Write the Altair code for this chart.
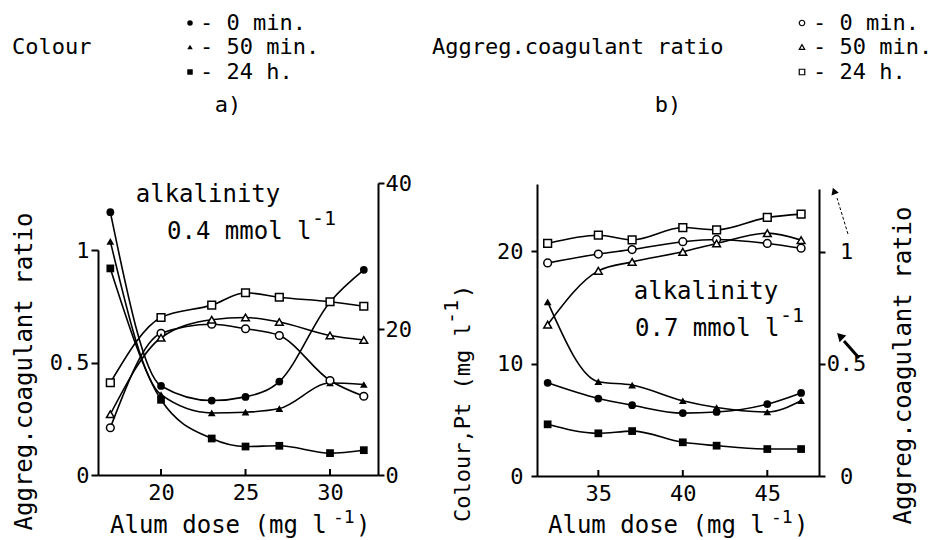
import altair as alt
import pandas as pd

FONT = "DejaVu Sans Mono"
SERIES = ["0 min.", "50 min.", "24 h."]
SHAPES = ["circle", "triangle-up", "square"]

# ---- panel a) alkalinity 0.4 mmol/l ----
DOSE_A = [17, 20, 23, 25, 27, 30, 32]
COLOUR_A_0 = [36.0, 12.2, 10.2, 10.7, 12.8, 23.7, 28.1]
COLOUR_A_50 = [32.0, 11.0, 8.5, 8.6, 9.1, 12.6, 12.4]
COLOUR_A_24 = [28.3, 10.3, 5.0, 3.9, 4.0, 3.0, 3.4]
RATIO_A_0 = [0.21, 0.63, 0.67, 0.65, 0.62, 0.42, 0.35]
RATIO_A_50 = [0.27, 0.61, 0.69, 0.70, 0.68, 0.62, 0.60]
RATIO_A_24 = [0.41, 0.70, 0.755, 0.81, 0.79, 0.77, 0.75]
XTICKS_A = [20, 25, 30]

# ---- panel b) alkalinity 0.7 mmol/l ----
DOSE_B = [32, 35, 37, 40, 42, 45, 47]
COLOUR_B_0 = [8.3, 6.9, 6.3, 5.6, 5.7, 6.4, 7.4]
COLOUR_B_50 = [15.5, 8.4, 8.1, 6.7, 6.1, 5.7, 6.7]
COLOUR_B_24 = [4.6, 3.8, 4.0, 3.0, 2.7, 2.4, 2.4]
RATIO_B_0 = [0.95, 0.99, 1.01, 1.045, 1.055, 1.037, 1.016]
RATIO_B_50 = [0.675, 0.915, 0.955, 1.0, 1.037, 1.083, 1.052]
RATIO_B_24 = [1.037, 1.074, 1.053, 1.108, 1.098, 1.153, 1.168]
XTICKS_B = [35, 40, 45]


def long(dose, a, b, c):
    rows = []
    for s, vals in zip(SERIES, [a, b, c]):
        for d, v in zip(dose, vals):
            rows.append({"dose": d, "value": v, "series": s})
    return pd.DataFrame(rows)


colA = long(DOSE_A, COLOUR_A_0, COLOUR_A_50, COLOUR_A_24)
ratA = long(DOSE_A, RATIO_A_0, RATIO_A_50, RATIO_A_24)
colB = long(DOSE_B, COLOUR_B_0, COLOUR_B_50, COLOUR_B_24)
ratB = long(DOSE_B, RATIO_B_0, RATIO_B_50, RATIO_B_24)
DUMMY = pd.DataFrame({"k": [0]})

W, H = 928, 532

xA = alt.Scale(domain=[16.27, 32.84], range=[90, 370], nice=False, zero=False)
yA_rat = alt.Scale(domain=[0, 1], range=[467, 242], nice=False, zero=False)
yA_col = alt.Scale(domain=[0, 40], range=[467, 175], nice=False, zero=False)
xB = alt.Scale(domain=[31.37, 48.06], range=[529, 811], nice=False, zero=False)
yB_col = alt.Scale(domain=[0, 26], range=[468, 176], nice=False, zero=False)
yB_rat = alt.Scale(domain=[0, 1.28], range=[468, 181], nice=False, zero=False)
shape_scale = alt.Scale(domain=SERIES, range=SHAPES)

RAT_TITLE = "Aggreg.coagulant ratio"

axA_x = alt.Axis(orient="bottom", offset=467 - H, values=XTICKS_A, ticks=False,
                 labelPadding=7, title=None)
axA_left = alt.Axis(orient="left", offset=-90, values=[0, 0.5, 1], format="~g",
                    tickSize=7, labelPadding=2, title=RAT_TITLE, titleX=-74,
                    titleY=363, titleAngle=270, titleAlign="center",
                    titleBaseline="middle")
axA_right = alt.Axis(orient="right", offset=-(W - 370), values=[0, 20, 40],
                     tickSize=6, labelPadding=1, title=None)
axB_x = alt.Axis(orient="bottom", offset=468 - H, values=XTICKS_B, ticks=False,
                 labelPadding=7, title=None)
axB_left = alt.Axis(orient="left", offset=-529, values=[0, 10, 20],
                    tickSize=6, labelPadding=8, title=None)
axB_right = alt.Axis(orient="right", offset=-(W - 811), values=[0, 0.5, 1],
                     format="~g", tickSize=6, labelPadding=21, labelAlign="center",
                     title=RAT_TITLE, titleX=84, titleY=357, titleAngle=270,
                     titleAlign="center", titleBaseline="middle")


def panel(col_df, rat_df, xs, ycol, yrat, ax_x, ax_col, ax_rat, xticks, ybase):
    col_line = alt.Chart(col_df).mark_line(interpolate="monotone", color="black",
                                           strokeWidth=1.6).encode(
        x=alt.X("dose:Q", scale=xs, axis=ax_x),
        y=alt.Y("value:Q", scale=ycol, axis=ax_col),
        detail="series:N")
    rat_line = alt.Chart(rat_df).mark_line(interpolate="monotone", color="black",
                                           strokeWidth=1.6).encode(
        x=alt.X("dose:Q", scale=xs, axis=None),
        y=alt.Y("value:Q", scale=yrat, axis=ax_rat),
        detail="series:N")
    col_pts = alt.Chart(col_df).mark_point(filled=True, color="black", size=60,
                                           opacity=1).encode(
        x=alt.X("dose:Q", scale=xs, axis=None),
        y=alt.Y("value:Q", scale=ycol, axis=None),
        shape=alt.Shape("series:N", scale=shape_scale, legend=None))
    rat_pts = alt.Chart(rat_df).mark_point(filled=False, fill="white", stroke="black",
                                           strokeWidth=1.5, size=60, opacity=1,
                                           fillOpacity=1).encode(
        x=alt.X("dose:Q", scale=xs, axis=None),
        y=alt.Y("value:Q", scale=yrat, axis=None),
        shape=alt.Shape("series:N", scale=shape_scale, legend=None))
    ticks = alt.Chart(pd.DataFrame({"t": xticks})).mark_rule(
        color="black", strokeWidth=2).encode(
        x=alt.X("t:Q", scale=xs, axis=None),
        y=alt.value(ybase), y2=alt.value(ybase - 6))
    return [col_line, rat_line, col_pts, rat_pts, ticks]


def txt(s, x, y, size=22, align="left", baseline="middle", angle=0):
    kw = dict(align=align, baseline=baseline, font=FONT, fontSize=size, color="black")
    if angle:
        kw["angle"] = angle
    return alt.Chart(DUMMY).mark_text(**kw).encode(
        x=alt.value(x), y=alt.value(y), text=alt.value(s))


def sym(shape, x, y, filled, size=30, angle=0):
    kw = dict(size=size, opacity=1)
    if angle:
        kw["angle"] = angle
    if filled:
        m = alt.Chart(DUMMY).mark_point(filled=True, color="black", **kw)
    else:
        m = alt.Chart(DUMMY).mark_point(filled=False, fill="white", stroke="black",
                                        strokeWidth=1.2, **kw)
    return m.encode(x=alt.value(x), y=alt.value(y), shape=alt.value(shape))


def seg(x1, y1, x2, y2, width=1.5, dash=None):
    kw = dict(color="black", strokeWidth=width)
    if dash:
        kw["strokeDash"] = dash
    return alt.Chart(DUMMY).mark_rule(**kw).encode(
        x=alt.value(x1), y=alt.value(y1), x2=alt.value(x2), y2=alt.value(y2))


ROWS_Y = [15, 39, 64]
header = [txt("Colour", 4, 39), txt(RAT_TITLE, 424, 39)]
for shp, lab, yy in zip(SHAPES, SERIES, ROWS_Y):
    header.append(sym(shp, 182, yy, True))
    header.append(txt("- " + lab, 192, yy))
    header.append(sym(shp, 794, yy, False))
    header.append(txt("- " + lab, 805, yy))

XT_BASE = 525
notes = [
    txt("a)", 220, 97, 22, "center"),
    txt("b)", 660, 97, 22, "center"),
    txt("alkalinity", 200, 187, 24, "center"),
    txt("0.4 mmol l", 159, 224, 24),
    txt("-1", 304, 211, 20),
    txt("alkalinity", 698, 284, 24, "center"),
    txt("0.7 mmol l", 627, 321, 24),
    txt("-1", 772, 308, 20),
    # x-axis titles with superscript
    txt("Alum dose (mg l", 102, XT_BASE, 24, baseline="alphabetic"),
    txt("-1", 325, XT_BASE - 10, 18, baseline="alphabetic"),
    txt(")", 348, XT_BASE, 24, baseline="alphabetic"),
    txt("Alum dose (mg l", 540, XT_BASE, 24, baseline="alphabetic"),
    txt("-1", 763, XT_BASE - 10, 18, baseline="alphabetic"),
    txt(")", 786, XT_BASE, 24, baseline="alphabetic"),
    # rotated left title of panel b
    txt("Colour,Pt (mg l", 455, 514, 22, angle=270),
    txt("-1", 444, 316, 20, angle=270),
    txt(")", 455, 290, 22, angle=270),
    # hand-drawn arrows near the right axis of panel b
    seg(851, 350, 836, 333, 3),
    sym("triangle-up", 832, 328, True, size=90, angle=315),
    seg(840, 226, 829, 190, 1, [3, 2]),
    sym("triangle-up", 826, 183, True, size=60, angle=340),
]

layers = (header + notes
          + panel(colA, ratA, xA, yA_col, yA_rat, axA_x, axA_right, axA_left, XTICKS_A, 467)
          + panel(colB, ratB, xB, yB_col, yB_rat, axB_x, axB_left, axB_right, XTICKS_B, 468))

chart = alt.layer(*layers).resolve_scale(
    x="independent", y="independent"
).properties(
    width=W, height=H, padding=0,
    autosize=alt.AutoSizeParams(type="none"),
    background="white",
).configure_view(stroke=None).configure_axis(
    grid=False, labelFont=FONT, labelFontSize=22, labelColor="black",
    titleFont=FONT, titleFontSize=24, titleFontWeight="normal", titleColor="black",
    domainColor="black", domainWidth=2, tickColor="black", tickWidth=2,
    labelFlush=False, labelOverlap=False,
)

chart.save("out.html", embed_options={"renderer": "svg", "actions": False})
